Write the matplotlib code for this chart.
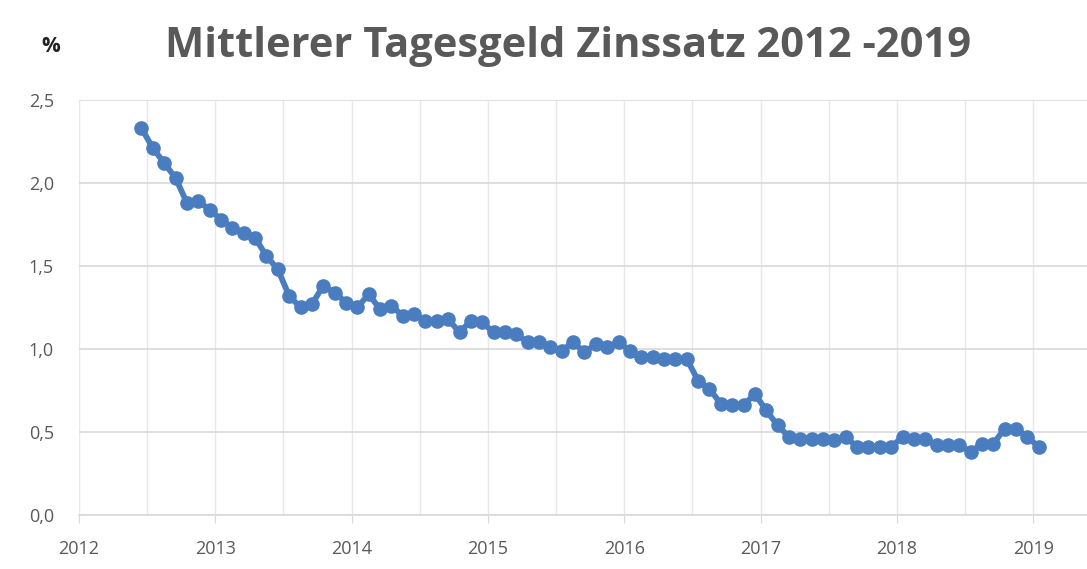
import matplotlib.pyplot as plt
from matplotlib.ticker import MultipleLocator

# monthly rates, June 2012 .. January 2019
start_year = 2012
start_month = 6
rates = [
    2.33, 2.21, 2.12, 2.03, 1.88, 1.89, 1.84,
    1.78, 1.73, 1.70, 1.67, 1.56, 1.48, 1.32, 1.25, 1.27, 1.38, 1.34, 1.28,
    1.25, 1.33, 1.24, 1.26, 1.20, 1.21, 1.17, 1.17, 1.18, 1.10, 1.17, 1.16,
    1.10, 1.10, 1.09, 1.04, 1.04, 1.01, 0.99, 1.04, 0.98, 1.03, 1.01, 1.04,
    0.99, 0.95, 0.95, 0.94, 0.94, 0.94, 0.81, 0.76, 0.67, 0.66, 0.66, 0.73,
    0.63, 0.54, 0.47, 0.46, 0.46, 0.46, 0.45, 0.47, 0.41, 0.41, 0.41, 0.41,
    0.47, 0.46, 0.46, 0.42, 0.42, 0.42, 0.38, 0.43, 0.43, 0.52, 0.52, 0.47,
    0.41,
]
years = [2012, 2013, 2014, 2015, 2016, 2017, 2018, 2019]
y_ticks = [0.0, 0.5, 1.0, 1.5, 2.0, 2.5]
y_labels = ['0,0', '0,5', '1,0', '1,5', '2,0', '2,5']

# decimal year at mid-month
x = []
for i in range(len(rates)):
    m = start_month - 1 + i
    x.append(start_year + m // 12 + (m % 12 + 0.5) / 12)

plt.rcParams['font.family'] = ['Open Sans', 'DejaVu Sans']
grey = '#595959'
blue = '#4a7dc0'

fig = plt.figure(figsize=(10.87, 5.69), dpi=100)
ax = fig.add_axes([0.0727, 0.0949, 0.9273, 0.7294])

ax.plot(x, rates, color=blue, lw=4.2, marker='o', ms=9.5, mec=blue, mfc=blue,
        solid_joinstyle='round', zorder=3)

ax.set_xlim(2012, 2019.395)
ax.set_ylim(0, 2.5)
ax.set_xticks(years)
ax.set_xticklabels([str(y) for y in years])
ax.xaxis.set_minor_locator(MultipleLocator(0.5))
ax.set_yticks(y_ticks)
ax.set_yticklabels(y_labels)

ax.grid(True, which='both', axis='x', color='#e8e8e8', lw=1)
ax.grid(True, which='major', axis='y', color='#d9d9d9', lw=1.2)
ax.set_axisbelow(True)
for s in ['top', 'right', 'left']:
    ax.spines[s].set_visible(False)
ax.spines['bottom'].set_color('#d9d9d9')
ax.spines['bottom'].set_linewidth(1.2)

ax.tick_params(axis='x', which='major', length=6, color='#d9d9d9', labelsize=13,
               labelcolor=grey, pad=12)
ax.tick_params(axis='x', which='minor', length=0)
ax.tick_params(axis='y', length=0, labelsize=13, labelcolor=grey, pad=18)

fig.text(0.5225, 0.9, 'Mittlerer Tagesgeld Zinssatz 2012 -2019', ha='center', va='baseline',
         fontsize=30, fontweight='bold', color=grey)
fig.text(0.047, 0.918, '%', ha='center', va='center', fontsize=15, fontweight='bold',
         color='#222222')

fig.savefig('out.png', dpi=100)
